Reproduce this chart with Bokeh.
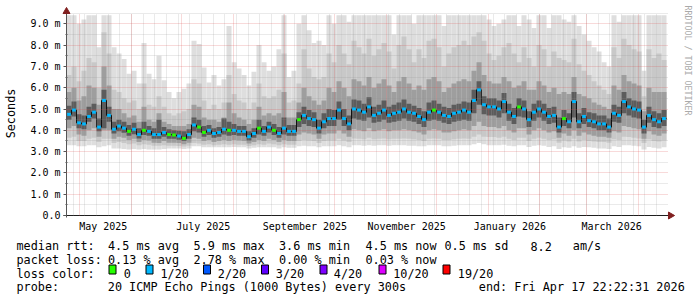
import math
from datetime import datetime, timedelta

from bokeh.plotting import figure
from bokeh.models import Range1d, FixedTicker, Label, BoxAnnotation
from bokeh.embed import file_html
from bokeh.resources import INLINE

# ------------------------------------------------------------------ data
START = datetime(2025, 4, 22, 22, 22, 31)
END = datetime(2026, 4, 17, 22, 22, 31)
STEP_DAYS = 3.0  # each value below covers 3 days (120 columns)

median_ms = [
    4.75, 4.95, 4.35, 4.3, 4.65, 4.85, 4.15, 5.4, 4.7, 4.05,
    4.2, 4.1, 3.95, 4.05, 3.8, 4.0, 3.95, 3.8, 3.8, 3.9,
    3.8, 3.78, 3.73, 3.62, 3.8, 4.25, 4.15, 3.9, 4.0, 3.85,
    3.9, 4.05, 4.0, 4.0, 3.95, 3.95, 3.7, 3.85, 4.1, 3.95,
    4.15, 4.0, 3.85, 4.1, 3.95, 3.95, 4.5, 4.7, 4.55, 4.5,
    4.1, 4.4, 4.55, 4.55, 4.95, 4.55, 4.3, 5.0, 4.95, 4.85,
    5.1, 4.7, 4.8, 4.95, 4.7, 4.8, 4.85, 5.0, 4.85, 4.8,
    4.65, 4.5, 4.85, 4.95, 4.85, 4.7, 4.65, 4.8, 4.85, 4.95,
    4.85, 5.4, 5.9, 5.2, 5.1, 5.1, 5.0, 5.35, 4.85, 4.65,
    5.1, 5.0, 4.5, 4.85, 5.0, 4.85, 4.65, 4.7, 4.15, 4.55,
    4.4, 5.35, 4.4, 4.65, 4.45, 4.4, 4.3, 4.3, 4.15, 4.8,
    4.7, 5.35, 5.1, 5.0, 4.95, 4.15, 4.7, 4.5, 4.4, 4.55,
]

ping_max = [
    9.4, 9.4, 9.0, 9.2, 9.4, 9.4, 7.9, 9.4, 9.4, 7.9,
    7.6, 7.35, 6.65, 6.8, 6.2, 8.1, 6.65, 6.4, 7.5, 6.35,
    5.8, 5.5, 5.8, 5.95, 6.2, 8.2, 8.05, 6.95, 6.25, 6.6,
    6.1, 6.4, 8.9, 7.2, 6.9, 6.6, 6.1, 6.75, 8.0, 7.2,
    6.8, 7.0, 7.8, 9.4, 6.5, 6.8, 9.0, 9.4, 8.7, 8.1,
    8.2, 8.0, 9.4, 9.0, 9.4, 9.4, 9.1, 9.4, 9.4, 9.4,
    9.4, 9.4, 9.4, 9.4, 9.4, 8.5, 9.4, 9.4, 9.4, 9.0,
    9.4, 9.4, 9.4, 9.4, 9.4, 8.9, 9.4, 9.4, 9.4, 9.4,
    9.4, 9.4, 9.4, 9.4, 9.2, 8.9, 9.0, 9.2, 9.4, 9.4,
    8.9, 9.4, 9.2, 8.8, 9.4, 9.4, 8.8, 9.4, 9.4, 9.2,
    9.1, 9.4, 8.9, 8.5, 8.2, 7.9, 7.7, 7.2, 7.0, 9.4,
    9.1, 9.4, 9.4, 9.4, 9.4, 6.8, 9.4, 9.4, 9.4, 9.4,
]

ping_p90 = [
    6.6, 7.0, 6.3, 6.8, 7.4, 7.2, 6.0, 8.6, 7.6, 5.9,
    5.8, 5.5, 5.3, 5.4, 5.0, 6.2, 5.2, 5.1, 5.6, 5.1,
    4.8, 4.7, 4.8, 4.9, 5.0, 6.4, 6.2, 5.4, 5.0, 5.2,
    5.0, 5.3, 6.6, 5.7, 5.4, 5.3, 5.0, 5.3, 6.2, 5.6,
    5.5, 5.6, 5.9, 7.6, 5.3, 5.4, 6.2, 7.8, 6.9, 6.5,
    6.4, 6.5, 7.6, 7.2, 8.0, 7.6, 7.1, 8.2, 7.9, 7.6,
    8.3, 7.5, 7.8, 8.1, 7.7, 6.9, 8.0, 8.4, 7.8, 7.2,
    7.8, 7.4, 8.2, 8.3, 7.9, 7.0, 7.6, 7.9, 8.0, 8.2,
    8.0, 8.4, 8.6, 8.2, 7.6, 7.3, 7.5, 7.9, 8.1, 7.6,
    7.2, 7.9, 7.4, 7.0, 8.0, 7.8, 7.0, 7.7, 7.4, 7.3,
    7.2, 8.3, 7.1, 6.8, 6.6, 6.3, 6.1, 5.9, 5.7, 7.9,
    7.4, 8.3, 8.0, 7.8, 7.7, 5.6, 7.8, 7.4, 7.6, 7.3,
]

ping_p75 = [
    5.8, 6.0, 5.4, 5.6, 6.1, 6.0, 5.2, 7.0, 6.1, 5.0,
    5.0, 4.8, 4.6, 4.7, 4.4, 5.1, 4.5, 4.4, 4.8, 4.4,
    4.3, 4.2, 4.2, 4.2, 4.3, 5.2, 5.1, 4.6, 4.5, 4.5,
    4.4, 4.6, 5.3, 4.8, 4.6, 4.5, 4.3, 4.5, 5.1, 4.7,
    4.8, 4.7, 4.8, 5.8, 4.6, 4.6, 5.3, 6.0, 5.6, 5.4,
    5.2, 5.4, 6.0, 5.8, 6.3, 6.0, 5.6, 6.4, 6.3, 6.1,
    6.5, 6.0, 6.2, 6.4, 6.1, 5.8, 6.3, 6.5, 6.2, 5.9,
    6.1, 5.9, 6.4, 6.5, 6.3, 5.8, 6.0, 6.2, 6.3, 6.4,
    6.3, 6.8, 7.2, 6.6, 6.3, 6.2, 6.2, 6.5, 6.3, 6.0,
    6.1, 6.3, 5.9, 5.9, 6.3, 6.1, 5.8, 6.0, 5.7, 5.8,
    5.7, 6.5, 5.7, 5.6, 5.5, 5.3, 5.2, 5.1, 5.0, 6.1,
    5.9, 6.6, 6.3, 6.2, 6.1, 4.9, 6.0, 5.8, 5.8, 5.8,
]

ping_p60 = [
    5.15, 5.35, 4.75, 4.7, 5.1, 5.25, 4.55, 5.9, 5.1, 4.4,
    4.5, 4.4, 4.25, 4.35, 4.1, 4.4, 4.2, 4.1, 4.5, 4.15,
    4.05, 4.0, 3.98, 3.95, 4.05, 4.6, 4.5, 4.2, 4.25, 4.1,
    4.15, 4.55, 4.4, 4.3, 4.2, 4.2, 3.95, 4.1, 4.5, 4.2,
    4.4, 4.3, 4.15, 4.6, 4.25, 4.25, 4.85, 5.1, 4.95, 4.85,
    4.5, 4.8, 5.0, 4.95, 5.35, 5.0, 4.7, 5.45, 5.4, 5.25,
    5.55, 5.1, 5.2, 5.4, 5.1, 5.2, 5.3, 5.45, 5.25, 5.15,
    5.05, 4.9, 5.3, 5.4, 5.25, 5.1, 5.05, 5.2, 5.25, 5.35,
    5.3, 5.9, 6.3, 5.6, 5.5, 5.5, 5.4, 5.75, 5.25, 5.05,
    5.5, 5.4, 4.9, 5.25, 5.4, 5.25, 5.05, 5.1, 4.6, 4.95,
    4.8, 5.8, 4.8, 5.05, 4.85, 4.8, 4.7, 4.7, 4.55, 5.2,
    5.1, 5.8, 5.5, 5.4, 5.35, 4.5, 5.1, 4.9, 4.8, 4.95,
]

ping_p40 = [
    4.5, 4.65, 4.1, 4.05, 4.4, 4.55, 3.95, 4.1, 4.4, 3.85,
    3.95, 3.88, 3.75, 3.82, 3.62, 3.78, 3.74, 3.6, 3.6, 3.7,
    3.6, 3.6, 3.56, 3.5, 3.6, 3.95, 3.9, 3.7, 3.78, 3.65,
    3.7, 3.8, 3.75, 3.78, 3.74, 3.74, 3.52, 3.65, 3.8, 3.74,
    3.9, 3.78, 3.65, 3.8, 3.74, 3.74, 4.15, 4.3, 4.2, 4.15,
    3.85, 4.1, 4.2, 4.2, 4.5, 4.2, 4.0, 4.55, 4.5, 4.45,
    4.6, 4.35, 4.4, 4.5, 4.35, 4.4, 4.45, 4.55, 4.45, 4.4,
    4.3, 4.15, 4.45, 4.5, 4.45, 4.35, 4.3, 4.4, 4.45, 4.5,
    4.45, 4.8, 5.2, 4.75, 4.7, 4.7, 4.6, 4.8, 4.45, 4.3,
    4.65, 4.6, 4.15, 4.45, 4.6, 4.45, 4.3, 4.35, 3.9, 4.2,
    4.1, 4.6, 4.1, 4.3, 4.15, 4.1, 4.0, 4.0, 3.9, 4.4,
    4.35, 4.8, 4.7, 4.6, 4.55, 3.85, 4.35, 4.15, 4.1, 4.2,
]

ping_p25 = [
    4.1, 4.2, 3.8, 3.75, 4.0, 4.1, 3.7, 4.0, 4.0, 3.6,
    3.7, 3.65, 3.55, 3.6, 3.45, 3.55, 3.52, 3.42, 3.4, 3.5,
    3.42, 3.42, 3.4, 3.35, 3.42, 3.65, 3.6, 3.5, 3.55, 3.45,
    3.5, 3.55, 3.5, 3.55, 3.52, 3.5, 3.38, 3.45, 3.55, 3.5,
    3.6, 3.55, 3.45, 3.55, 3.5, 3.5, 3.8, 3.9, 3.85, 3.8,
    3.6, 3.8, 3.85, 3.85, 4.0, 3.85, 3.7, 4.05, 4.0, 3.95,
    4.1, 3.95, 4.0, 4.05, 3.95, 4.0, 4.0, 4.05, 4.0, 3.95,
    3.9, 3.8, 4.0, 4.05, 4.0, 3.9, 3.9, 3.95, 4.0, 4.05,
    4.0, 4.2, 4.4, 4.2, 4.15, 4.15, 4.1, 4.2, 4.0, 3.9,
    4.1, 4.1, 3.8, 4.0, 4.1, 4.0, 3.9, 3.95, 3.65, 3.85,
    3.75, 4.0, 3.75, 3.9, 3.8, 3.75, 3.7, 3.7, 3.65, 3.95,
    3.9, 4.2, 4.15, 4.1, 4.05, 3.6, 3.95, 3.8, 3.75, 3.85,
]

ping_p10 = [
    3.65, 3.7, 3.5, 3.5, 3.6, 3.65, 3.45, 3.6, 3.6, 3.4,
    3.45, 3.4, 3.35, 3.38, 3.3, 3.35, 3.32, 3.28, 3.28, 3.3,
    3.28, 3.28, 3.26, 3.24, 3.28, 3.4, 3.38, 3.32, 3.34, 3.3,
    3.32, 3.34, 3.32, 3.34, 3.32, 3.32, 3.26, 3.3, 3.35, 3.32,
    3.38, 3.34, 3.3, 3.35, 3.32, 3.32, 3.5, 3.55, 3.52, 3.5,
    3.4, 3.5, 3.52, 3.52, 3.6, 3.52, 3.45, 3.62, 3.6, 3.58,
    3.65, 3.58, 3.6, 3.62, 3.58, 3.6, 3.6, 3.62, 3.6, 3.58,
    3.55, 3.5, 3.6, 3.62, 3.6, 3.55, 3.55, 3.58, 3.6, 3.62,
    3.6, 3.7, 3.8, 3.7, 3.68, 3.68, 3.65, 3.7, 3.6, 3.55,
    3.65, 3.65, 3.5, 3.6, 3.65, 3.6, 3.55, 3.58, 3.42, 3.52,
    3.48, 3.6, 3.48, 3.55, 3.5, 3.48, 3.45, 3.45, 3.42, 3.58,
    3.55, 3.7, 3.68, 3.65, 3.62, 3.4, 3.58, 3.5, 3.48, 3.52,
]

ping_min = [
    3.3, 3.3, 3.25, 3.25, 3.3, 3.3, 3.2, 3.25, 3.3, 3.15,
    3.15, 3.12, 3.1, 3.12, 3.1, 3.12, 3.1, 3.1, 3.1, 3.12,
    3.15, 3.15, 3.15, 3.12, 3.15, 3.25, 3.25, 3.2, 3.2, 3.2,
    3.2, 3.2, 3.2, 3.22, 3.2, 3.2, 3.15, 3.18, 3.2, 3.2,
    3.2, 3.2, 3.15, 3.2, 3.18, 3.18, 3.25, 3.28, 3.25, 3.25,
    3.2, 3.25, 3.25, 3.25, 3.3, 3.25, 3.2, 3.3, 3.3, 3.28,
    3.3, 3.28, 3.3, 3.3, 3.28, 3.3, 3.3, 3.3, 3.28, 3.28,
    3.25, 3.25, 3.3, 3.3, 3.3, 3.25, 3.25, 3.28, 3.3, 3.3,
    3.3, 3.35, 3.4, 3.35, 3.3, 3.3, 3.3, 3.32, 3.28, 3.25,
    3.3, 3.3, 3.22, 3.28, 3.3, 3.28, 3.22, 3.25, 3.12, 3.2,
    3.18, 3.25, 3.18, 3.22, 3.2, 3.18, 3.15, 3.15, 3.12, 3.25,
    3.22, 3.3, 3.3, 3.28, 3.25, 3.1, 3.22, 3.18, 3.15, 3.2,
]

# lost pings (out of 20) per column, rounded up
loss_pings = [
    1, 1, 1, 1, 1, 1, 1, 1, 1, 1,
    1, 1, 0, 1, 1, 0, 1, 1, 1, 1,
    0, 0, 1, 0, 1, 1, 0, 0, 1, 1,
    1, 1, 0, 1, 1, 1, 1, 1, 0, 1,
    1, 0, 1, 1, 1, 1, 0, 1, 1, 1,
    1, 1, 1, 1, 1, 1, 1, 1, 1, 1,
    1, 1, 1, 1, 1, 1, 1, 1, 1, 1,
    1, 1, 1, 0, 1, 1, 1, 1, 1, 1,
    1, 1, 1, 1, 1, 1, 1, 1, 1, 1,
    0, 1, 1, 1, 1, 1, 1, 1, 1, 0,
    1, 1, 1, 1, 1, 1, 1, 1, 1, 1,
    1, 1, 1, 1, 1, 1, 1, 1, 1, 1,
]

loss_thresholds = [0, 1, 2, 3, 4, 10, 19]
loss_labels = ["0", "1/20", "2/20", "3/20", "4/20", "10/20", "19/20"]
loss_colors = ["#26ff00", "#00b8ff", "#0059ff", "#5e00ff", "#7e00ff", "#dd00ff", "#ff0000"]

y_ticks = [0, 1, 2, 3, 4, 5, 6, 7, 8, 9]
y_tick_labels = ["0.0", "1.0 m", "2.0 m", "3.0 m", "4.0 m", "5.0 m",
                 "6.0 m", "7.0 m", "8.0 m", "9.0 m"]
x_label_dates = [datetime(2025, 5, 15), datetime(2025, 7, 14), datetime(2025, 9, 13),
                 datetime(2025, 11, 13), datetime(2026, 1, 14), datetime(2026, 3, 16)]
x_labels = ["May 2025", "July 2025", "September 2025", "November 2025",
            "January 2026", "March 2026"]

# legend rows: (text, left pixel)
legend_rows = [
    [("median rtt:", 16), ("4.5 ms avg", 107.5), ("5.9 ms max", 193), ("3.6 ms min", 278.5),
     ("4.5 ms now", 365), ("0.5 ms sd", 444), ("8.2", 530), ("am/s", 572.3)],
    [("packet loss:", 16), ("0.13 % avg", 107.5), ("2.78 % max", 193), ("0.00 % min", 278.5),
     ("0.03 % now", 365)],
    [("loss color:", 16)],
    [("probe:", 16), ("20 ICMP Echo Pings (1000 Bytes) every 300s", 107.3),
     ("end: Fri Apr 17 22:22:31 2026", 478.3)],
]
watermark = "RRDTOOL / TOBI OETIKER"
y_title = "Seconds"

# ------------------------------------------------------------------ layout
W, H = 697, 297
X0, Y0 = 66, 215          # pixel of (day 0, 0 ms)
PX_PER_DAY = 600.0 / 360.0
PX_PER_MS = 21.3
MONO = "DejaVu Sans Mono"
ARROW = "#801f1f"


def xd(px):
    return (px - X0) / PX_PER_DAY


def yd(py):
    return (Y0 - py) / PX_PER_MS


def day_of(dt):
    return (dt - START).total_seconds() / 86400.0


def loss_color(n_lost):
    col = loss_colors[0]
    for t, c in zip(loss_thresholds, loss_colors):
        if n_lost >= t:
            col = c
    return col


p = figure(width=W, height=H, x_range=Range1d(xd(0), xd(W)), y_range=Range1d(yd(H), yd(0)),
           output_backend="svg", toolbar_location=None, tools="",
           min_border_left=0, min_border_right=0, min_border_top=0, min_border_bottom=0,
           background_fill_color="white", border_fill_color="white", outline_line_color=None)

n = len(median_ms)
centers = [STEP_DAYS * (k + 0.5) for k in range(n)]
bands = [
    (ping_min, ping_max, "#dedede"),
    (ping_p10, ping_p90, "#c8c8c8"),
    (ping_p25, ping_p75, "#9e9e9e"),
    (ping_p40, ping_p60, "#5c5c5c"),
]
for lo, hi, col in bands:
    p.vbar(x=centers, width=STEP_DAYS, bottom=lo, top=hi,
           fill_color=col, line_color=None)

edges = [STEP_DAYS * k for k in range(n + 1)]
p.step(x=edges, y=median_ms + [median_ms[-1]], mode="after",
       line_color="#111111", line_width=1)
p.rect(x=centers, y=median_ms, width=STEP_DAYS * 0.75, height=3, height_units="screen",
       fill_color=[loss_color(v) for v in loss_pings], line_color=None, level="annotation")

# grids: monthly (red) and weekly (grey) verticals, 1 ms / 0.5 ms horizontals
month_starts = []
y_, m_ = 2025, 5
while datetime(y_, m_, 1) < END:
    month_starts.append(day_of(datetime(y_, m_, 1)))
    m_ += 1
    if m_ > 12:
        m_, y_ = 1, y_ + 1
weeks = []
d = datetime(2025, 4, 27)
while d < END:
    weeks.append(day_of(d))
    d += timedelta(days=7)

p.xgrid.ticker = FixedTicker(ticks=month_starts, minor_ticks=weeks)
p.ygrid.ticker = FixedTicker(ticks=y_ticks[1:], minor_ticks=[t + 0.5 for t in y_ticks])
p.xgrid.cross_bounds = (0, yd(13.5))
p.ygrid.cross_bounds = (0, xd(668))
for g in (p.xgrid, p.ygrid):
    g.grid_line_color = "#de4f4f"
    g.grid_line_alpha = 0.42
    g.grid_line_dash = "1 1"
    g.minor_grid_line_color = "#8f8f8f"
    g.minor_grid_line_alpha = 0.38
    g.minor_grid_line_dash = "1 1"
    g.level = "guide"

# axes (kept in their side panels, drawn at the data origin)
x_tick_pos = [day_of(dt) for dt in x_label_dates]
p.xaxis.fixed_location = 0
p.xaxis.bounds = (xd(63), xd(668))
p.xaxis.ticker = FixedTicker(ticks=x_tick_pos, minor_ticks=[])
p.xaxis.major_label_overrides = {pos: lab for pos, lab in zip(x_tick_pos, x_labels)}
p.xaxis.major_tick_out = 0
p.xaxis.major_tick_in = 0
p.xaxis.minor_tick_out = 0
p.xaxis.minor_tick_in = 0
p.xaxis.axis_line_color = "#1f1f1f"
p.xaxis.major_label_standoff = 5

p.yaxis.fixed_location = 0
p.yaxis.bounds = (yd(217), yd(13))
p.yaxis.ticker = FixedTicker(ticks=y_ticks, minor_ticks=[t + 0.5 for t in y_ticks[:-1]])
p.yaxis.major_label_overrides = {t: lab for t, lab in zip(y_ticks, y_tick_labels)}
p.yaxis.major_tick_out = 3
p.yaxis.major_tick_in = 0
p.yaxis.minor_tick_out = 1
p.yaxis.minor_tick_in = 1
p.yaxis.axis_line_color = "#555555"
p.yaxis.major_tick_line_color = "#555555"
p.yaxis.minor_tick_line_color = "#555555"
p.yaxis.major_label_standoff = 3

for ax in (p.xaxis, p.yaxis):
    ax.major_label_text_font = MONO
    ax.major_label_text_font_size = "10px"
    ax.major_label_text_color = "#000000"

# arrow heads at the axis ends
p.scatter(x=[0], y=[yd(11)], marker="triangle", size=7, fill_color=ARROW,
          line_color=ARROW, level="annotation")
p.scatter(x=[xd(670)], y=[0], marker="triangle", size=7, angle=-math.pi / 2,
          fill_color=ARROW, line_color=ARROW, level="annotation")


def add_text(txt, px, py, size="11.8px", color="#000000", angle=0.0,
             align="left", baseline="alphabetic"):
    p.add_layout(Label(x=xd(px), y=yd(py), text=txt, text_font=MONO,
                       text_font_size=size, text_color=color, angle=angle,
                       text_align=align, text_baseline=baseline))


add_text(y_title, 10.5, 113, angle=math.pi / 2, align="center", baseline="middle")
add_text(watermark, 687, 60, size="8.3px", color="#aaaaaa", angle=-math.pi / 2,
         align="center", baseline="middle")

rows_y = [245.7, 259.3, 273.0, 286.6]
for row, base in zip(legend_rows, rows_y):
    for txt, px in row:
        add_text(txt, px, base)

box_left = [108.5, 145.5, 203.0, 261.0, 319.5, 378.5, 442.5]
text_left = [123.3, 160.0, 217.3, 275.3, 333.3, 392.7, 457.3]
for bl, tl, lab, col in zip(box_left, text_left, loss_labels, loss_colors):
    p.add_layout(BoxAnnotation(left=xd(bl), right=xd(bl + 7), top=yd(264.5), bottom=yd(273.5),
                               fill_color=col, fill_alpha=1.0, line_color="#000000",
                               line_alpha=1.0, line_width=1))
    add_text(lab, tl, rows_y[2])

open("out.html", "w").write(file_html(p, INLINE))
